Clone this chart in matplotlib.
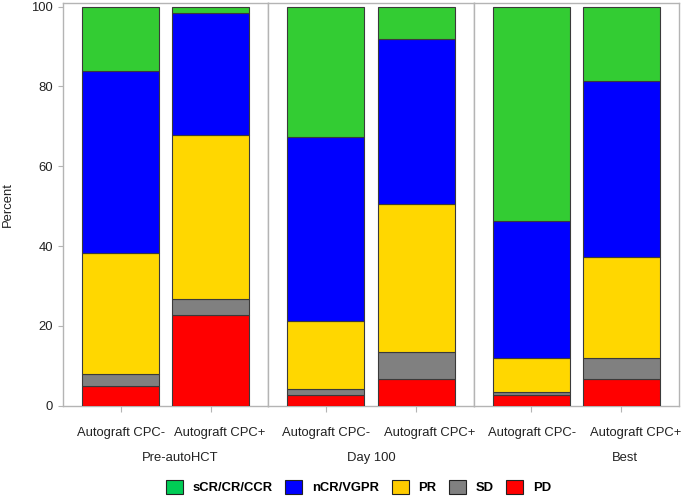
import matplotlib
matplotlib.use("Agg")
import matplotlib.pyplot as plt
import matplotlib.transforms as mtransforms
from matplotlib.patches import Patch

plt.rcParams['font.family'] = ['Liberation Sans', 'DejaVu Sans']

groups = ["Pre-autoHCT", "Day 100", "Best"]
bars = ["Autograft CPC-", "Autograft CPC+"]
categories = ["PD", "SD", "PR", "nCR/VGPR", "sCR/CR/CCR"]
colors = ["#FF0000", "#808080", "#FFD700", "#0000FF", "#33CC33"]
legend_labels = ["sCR/CR/CCR", "nCR/VGPR", "PR", "SD", "PD"]
legend_colors = ["#00CC55", "#0000FF", "#FFCC00", "#808080", "#FF0000"]

# percent per category, per group: [CPC-, CPC+]
pd_vals = [[5.0, 22.7], [2.7, 6.7], [2.7, 6.7]]
sd_vals = [[3.0, 4.0], [1.4, 6.7], [0.8, 5.3]]
pr_vals = [[30.2, 41.2], [17.2, 37.1], [8.4, 25.3]]
ncr_vals = [[45.8, 30.6], [46.0, 41.4], [34.4, 44.0]]
scr_vals = [[16.0, 1.5], [32.7, 8.1], [53.7, 18.7]]
series = [pd_vals, sd_vals, pr_vals, ncr_vals, scr_vals]

W, H = 685, 496
fig = plt.figure(figsize=(W / 100, H / 100), dpi=100)
left_px, right_px = 63, 679
top_px, bottom_px = 2.5, 405.7
panel_w = (right_px - left_px) / 3
frame_col = "#b4b4b4"
txt_col = "#222222"
fs = 9.4

label_shift_px = [[0, 9], [0, 14], [1, 14]]
group_x_px = [180, 371, 624.5]

for g in range(3):
    ax = fig.add_axes([(left_px + g * panel_w) / W, 1 - bottom_px / H,
                       panel_w / W, (bottom_px - top_px) / H])
    bottom = [0.0, 0.0]
    for ci, s in enumerate(series):
        vals = s[g]
        ax.bar([0, 1], vals, width=0.855, bottom=bottom, color=colors[ci],
               edgecolor="#3a3a3a", linewidth=0.8, zorder=3)
        bottom = [bottom[i] + vals[i] for i in range(2)]
    ax.set_xlim(-0.64, 1.64)
    ax.set_ylim(0, 101.05)
    ax.set_xticks([0, 1])
    ax.set_xticklabels(bars, fontsize=fs, color=txt_col)
    ax.tick_params(axis='x', length=4, width=0.8, color=frame_col, pad=11)
    for i, lab in enumerate(ax.get_xticklabels()):
        off = mtransforms.ScaledTranslation(label_shift_px[g][i] / 100, 0,
                                            fig.dpi_scale_trans)
        lab.set_transform(lab.get_transform() + off)
    for sp in ax.spines.values():
        sp.set_color(frame_col)
        sp.set_linewidth(1.0)
    if g == 0:
        ax.set_yticks([0, 20, 40, 60, 80, 100])
        ax.tick_params(axis='y', length=3.6, width=0.8, color=frame_col,
                       labelsize=fs, labelcolor=txt_col, pad=3.8)
        ax.set_ylabel("Percent", fontsize=fs, color=txt_col, va='center')
        ax.yaxis.set_label_coords((7.5 - left_px) / panel_w, 0.5)
    else:
        ax.set_yticks([])
    fig.text(group_x_px[g] / W, 1 - 457.7 / H, groups[g], ha='center',
             va='center', fontsize=fs, color=txt_col)

handles = [Patch(facecolor=legend_colors[i], edgecolor="#222222", linewidth=0.8)
           for i in range(5)]
fig.legend(handles, legend_labels, loc='center',
           bbox_to_anchor=(358.5 / W, 1 - 487 / H),
           ncol=5, frameon=False, handlelength=1.3, handleheight=1.3,
           handletextpad=0.75, columnspacing=0.95, borderpad=0.2,
           prop={'weight': 'bold', 'size': fs})

fig.savefig("out.png", dpi=100)
